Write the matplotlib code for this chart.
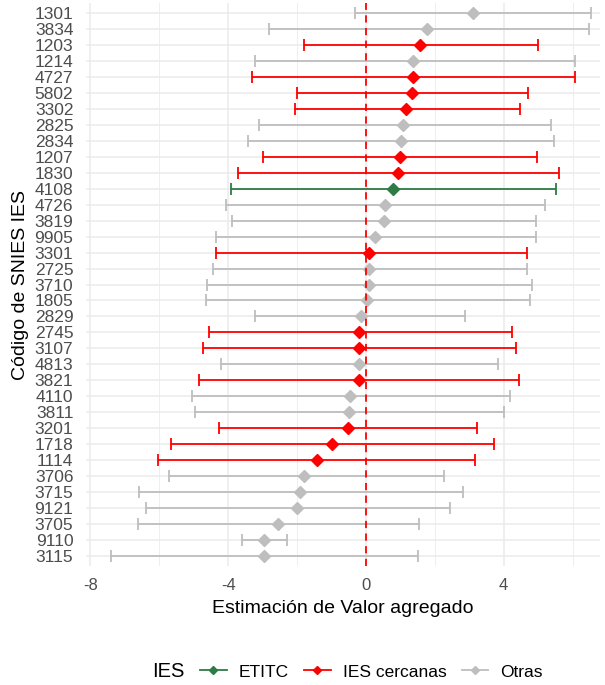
import matplotlib.pyplot as plt
from matplotlib.lines import Line2D

plt.rcParams['font.family'] = ['Liberation Sans', 'DejaVu Sans']

codes = ['1301', '3834', '1203', '1214', '4727', '5802', '3302', '2825', '2834', '1207',
         '1830', '4108', '4726', '3819', '9905', '3301', '2725', '3710', '1805', '2829',
         '2745', '3107', '4813', '3821', '4110', '3811', '3201', '1718', '1114', '3706',
         '3715', '9121', '3705', '9110', '3115']
estimate = [3.12, 1.76, 1.58, 1.38, 1.38, 1.34, 1.17, 1.09, 1.02, 0.98,
            0.93, 0.80, 0.55, 0.51, 0.27, 0.10, 0.10, 0.08, 0.03, -0.15,
            -0.21, -0.21, -0.21, -0.21, -0.46, -0.49, -0.53, -0.99, -1.43, -1.79,
            -1.91, -1.99, -2.56, -2.96, -2.96]
lower = [-0.32, -2.82, -1.80, -3.23, -3.30, -2.01, -2.05, -3.10, -3.43, -2.98,
         -3.70, -3.93, -4.07, -3.88, -4.36, -4.36, -4.45, -4.60, -4.63, -3.23,
         -4.57, -4.72, -4.20, -4.86, -5.05, -4.96, -4.27, -5.66, -6.03, -5.73,
         -6.59, -6.39, -6.63, -3.59, -7.41]
upper = [6.54, 6.47, 5.00, 6.06, 6.06, 4.71, 4.47, 5.37, 5.45, 4.96,
         5.60, 5.52, 5.20, 4.95, 4.95, 4.67, 4.67, 4.81, 4.75, 2.89,
         4.24, 4.36, 3.82, 4.45, 4.19, 4.01, 3.22, 3.73, 3.17, 2.26,
         2.82, 2.44, 1.55, -2.29, 1.52]
group = ['Otras', 'Otras', 'IES cercanas', 'Otras', 'IES cercanas', 'IES cercanas', 'IES cercanas',
         'Otras', 'Otras', 'IES cercanas', 'IES cercanas', 'ETITC', 'Otras', 'Otras', 'Otras',
         'IES cercanas', 'Otras', 'Otras', 'Otras', 'Otras', 'IES cercanas', 'IES cercanas',
         'Otras', 'IES cercanas', 'Otras', 'Otras', 'IES cercanas', 'IES cercanas',
         'IES cercanas', 'Otras', 'Otras', 'Otras', 'Otras', 'Otras', 'Otras']

colors = {'ETITC': '#2E7B45', 'IES cercanas': '#FF0000', 'Otras': '#BEBEBE'}
grid_col = '#EBEBEB'
text_col = '#4D4D4D'

fig = plt.figure(figsize=(6.05, 6.85), dpi=100)
ax = fig.add_axes([0.142, 0.1743, 0.85, 0.8207])

n = len(codes)
ypos = [n - 1 - i for i in range(n)]

# grey first so coloured bars sit on top
order = sorted(range(n), key=lambda i: {'Otras': 0, 'IES cercanas': 1, 'ETITC': 2}[group[i]])
for i in order:
    c = colors[group[i]]
    ax.errorbar(estimate[i], ypos[i],
                xerr=[[estimate[i] - lower[i]], [upper[i] - estimate[i]]],
                fmt='none', ecolor=c, elinewidth=1.3, capsize=4.5, capthick=1.3, zorder=3)
    ax.plot(estimate[i], ypos[i], marker='D', ms=6, color=c, mec=c, zorder=4)

ax.axvline(0, color='#FF0000', ls=(0, (4, 3)), lw=1.3, zorder=5)

ax.set_xlim(-8.13, 6.8)
ax.set_ylim(-0.6, n - 0.4)
ax.set_yticks(ypos)
ax.set_yticklabels(codes)
ax.set_xticks([-8, -4, 0, 4])
ax.set_xticklabels(['-8', '-4', '0', '4'])
ax.set_xticks([-6, -2, 2, 6], minor=True)

ax.grid(True, which='major', color=grid_col, lw=1.1, zorder=0)
ax.grid(True, which='minor', axis='x', color=grid_col, lw=0.6, zorder=0)
ax.set_axisbelow(True)
for s in ax.spines.values():
    s.set_visible(False)
ax.tick_params(which='both', length=0)
ax.tick_params(axis='y', labelsize=12.5, labelcolor=text_col, pad=9)
ax.tick_params(axis='x', labelsize=12, labelcolor=text_col, pad=9)

ax.set_xlabel('Estimación de Valor agregado', fontsize=14, labelpad=5)
ax.set_ylabel('Código de SNIES IES', fontsize=14, labelpad=4)

handles = [Line2D([0], [0], color=colors[k], marker='D', ms=4, lw=1.3) for k in colors]
leg = fig.legend(handles, list(colors.keys()), loc='center left',
                 bbox_to_anchor=(0.33, 0.019), borderpad=0, borderaxespad=0,
                 ncol=3, frameon=False, fontsize=12.5, handlelength=1.55,
                 columnspacing=0.86, handletextpad=0.7)
fig.text(0.278, 0.019, 'IES', fontsize=14.5, ha='center', va='center')

fig.savefig('out.png', dpi=100)
